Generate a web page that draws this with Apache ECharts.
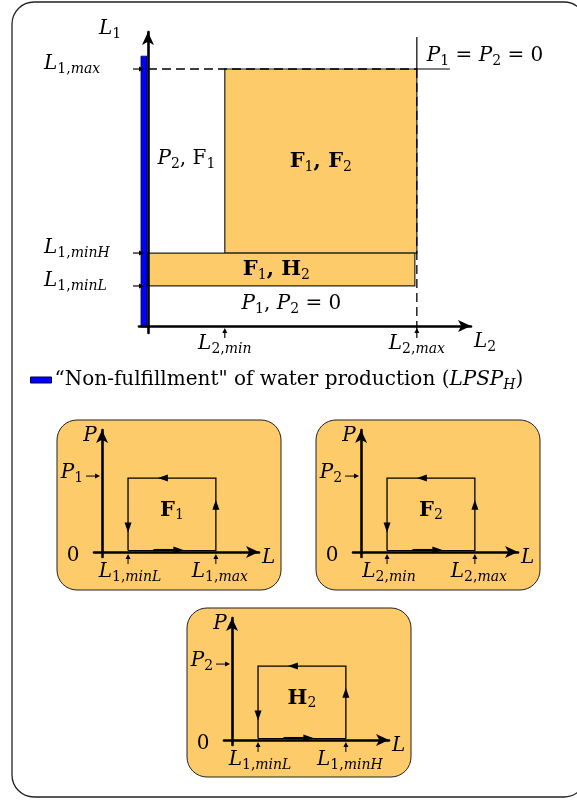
<!DOCTYPE html>
<html><head><meta charset="utf-8">
<script src="https://cdn.jsdelivr.net/npm/echarts@6/dist/echarts.min.js"></script>
<style>html,body{margin:0;padding:0;background:#fff}#c{width:577px;height:800px}</style>
</head><body><div id="c"></div>
<script>
// ================= DATA =================
// Main diagram: operating regions in the (L2, L1) plane
const L2_MIN = 2.0, L2_MAX = 7.0;
const L1_MIN_L = 1.56, L1_MIN_H = 2.84, L1_MAX = 10.0;
const mainXTickValues = [L2_MIN, L2_MAX];
const mainXTickLabels = ['{i|L}{s|2,}{si|min}', '{i|L}{s|2,}{si|max}'];
const mainYTickValues = [L1_MAX, L1_MIN_H, L1_MIN_L];
const mainYTickLabels = ['{i|L}{s|1,}{si|max}', '{i|L}{s|1,}{si|minH}', '{i|L}{s|1,}{si|minL}'];
// filled regions [x0, x1, y0, y1]
const regionXStart = [L2_MIN, 0];
const regionXEnd   = [L2_MAX, L2_MAX];
const regionYStart = [L1_MIN_H, L1_MIN_L];
const regionYEnd   = [L1_MAX, L1_MIN_H];
const regionLabels = ['{b|F}{bs|1}{b|, F}{bs|2}', '{b|F}{bs|1}{b|, H}{bs|2}'];
// unfilled zones
const zoneXStart = [0, 0];
const zoneXEnd   = [L2_MIN, L2_MAX];
const zoneYStart = [L1_MIN_H, 0];
const zoneYEnd   = [L1_MAX, L1_MIN_L];
const zoneLabels = ['{i|P}{s|2}{r|, F}{s|1}', '{i|P}{s|1}{r|, }{i|P}{s|2}{r| = 0}'];
// LPSP_H bar (non-fulfillment of water production)
const lpspLevel = [10.5];
const legendLabel = '{r|\u201CNon-fulfillment" of water production (}{i|LPSP}{si|H}{r|)}';
// guide lines
const guideDashedFrom = [[0, L1_MAX], [L2_MAX, L1_MAX]];
const guideDashedTo   = [[L2_MAX, L1_MAX], [L2_MAX, -0.2]];
const guideSolidFrom  = [[L2_MAX, L1_MAX], [L2_MAX, L1_MAX]];
const guideSolidTo    = [[L2_MAX, 11.25], [7.86, L1_MAX]];
const cornerLabel = '{i|P}{s|1}{r| = }{i|P}{s|2}{r| = 0}';

// Small panels: hysteresis loops of each unit
const panelTitles = ['{b|F}{bs|1}', '{b|F}{bs|2}', '{b|H}{bs|2}'];
const panelPowerLabels = ['{i|P}{s|1}', '{i|P}{s|2}', '{i|P}{s|2}'];
const panelLoopLow  = [1.0, 1.0, 1.0];
const panelLoopHigh = [4.38, 4.38, 4.38];
const panelLoopPower = [3, 3, 3];
const panelLowLabels  = ['{i|L}{s|1,}{si|minL}', '{i|L}{s|2,}{si|min}', '{i|L}{s|1,}{si|minL}'];
const panelHighLabels = ['{i|L}{s|1,}{si|max}', '{i|L}{s|2,}{si|max}', '{i|L}{s|1,}{si|minH}'];

// ================= STYLE =================
const FONT = "'DejaVu Serif', 'Liberation Serif', serif";
const ORANGE = '#FECB6B';
const FS = 20, SFS = 14;
const rich = {
  r:  {fontFamily: FONT, fontSize: FS, color: '#000'},
  i:  {fontFamily: FONT, fontSize: FS, fontStyle: 'italic', color: '#000'},
  b:  {fontFamily: FONT, fontSize: FS + 1, fontWeight: 'bold', color: '#000'},
  s:  {fontFamily: FONT, fontSize: SFS, color: '#000', padding: [11, 0, 0, 0]},
  si: {fontFamily: FONT, fontSize: SFS, fontStyle: 'italic', color: '#000', padding: [11, 0, 0, 0]},
  bs: {fontFamily: FONT, fontSize: SFS, color: '#000', padding: [11, 0, 0, 0]}
};

function txt(t, x, y, align) {
  return {type: 'text', x: x, y: y, style: {text: t, rich: rich, align: align || 'center', verticalAlign: 'middle'}};
}
function head(tip, dir, len, hw) {
  const bx = tip[0] - dir[0] * len, by = tip[1] - dir[1] * len;
  const nx = -dir[1], ny = dir[0];
  return {type: 'polygon', shape: {points: [[tip[0], tip[1]], [bx + nx * hw, by + ny * hw], [bx - nx * hw, by - ny * hw]]}, style: {fill: '#000'}};
}
function arrow(from, to, len, hw, lw) {
  const dx = to[0] - from[0], dy = to[1] - from[1], d = Math.hypot(dx, dy);
  const u = [dx / d, dy / d];
  return [
    {type: 'line', shape: {x1: from[0], y1: from[1], x2: to[0] - u[0] * len * 0.6, y2: to[1] - u[1] * len * 0.6}, style: {stroke: '#000', lineWidth: lw}},
    head(to, u, len, hw)
  ];
}

// axis ranges
const MX = [-0.234, 8.41], MY = [-0.27, 11.44];
const PX = [-0.31, 6.04], PY = [-0.2, 4.95];

function axis(grid, range) {
  return {
    type: 'value', gridIndex: grid, min: range[0], max: range[1],
    axisLine: {show: true, onZero: true, symbol: ['none', 'arrow'], symbolSize: [9, 13],
               lineStyle: {color: '#000', width: 2.6}},
    axisTick: {show: false}, axisLabel: {show: false}, splitLine: {show: false}
  };
}

const grids = [
  {left: 139, top: 32, width: 332, height: 301},
  {left: 94, top: 430, width: 165, height: 127},
  {left: 353, top: 430, width: 165, height: 127},
  {left: 224, top: 618, width: 165, height: 127}
];

const series = [];
// regions
series.push({
  type: 'custom', name: 'regions', coordinateSystem: 'cartesian2d', xAxisIndex: 0, yAxisIndex: 0, z: -1,
  data: regionXStart.map((v, i) => [v, regionXEnd[i], regionYStart[i], regionYEnd[i]]),
  renderItem: function (params, api) {
    const p0 = api.coord([api.value(0), api.value(3)]);
    const p1 = api.coord([api.value(1), api.value(2)]);
    const i = params.dataIndex;
    return {type: 'group', children: [
      {type: 'rect', shape: {x: p0[0], y: p0[1], width: p1[0] - p0[0] - (i === 1 ? 2 : 0), height: p1[1] - p0[1]},
       style: {fill: ORANGE, stroke: '#222', lineWidth: 1.2}},
      txt(regionLabels[i], (p0[0] + p1[0]) / 2 + (i === 1 ? -6 : 0), (p0[1] + p1[1]) / 2 + (i === 1 ? 0 : 1), 'center')
    ]};
  }
});
// LPSP bar
series.push({
  type: 'custom', name: 'lpsp', coordinateSystem: 'cartesian2d', xAxisIndex: 0, yAxisIndex: 0, z: -1,
  itemStyle: {color: '#0000FF', borderColor: '#000040', borderWidth: 1},
  data: lpspLevel.map(v => [0, v]),
  renderItem: function (params, api) {
    const top = api.coord([api.value(0), api.value(1)]);
    const bot = api.coord([api.value(0), 0]);
    return {type: 'rect', shape: {x: top[0] - 7, y: top[1], width: 6, height: bot[1] - top[1] + 1},
            style: {fill: '#0000FF', stroke: '#000040', lineWidth: 0.8}};
  }
});
// guides
series.push({
  type: 'custom', name: 'guides', coordinateSystem: 'cartesian2d', xAxisIndex: 0, yAxisIndex: 0, z: 3,
  data: [[0]],
  renderItem: function (params, api) {
    const ch = [];
    guideDashedFrom.forEach((f, i) => {
      const a = api.coord(f), b = api.coord(guideDashedTo[i]);
      ch.push({type: 'line', shape: {x1: a[0], y1: a[1], x2: b[0], y2: b[1]}, style: {stroke: '#000', lineWidth: 1.3, lineDash: [9, 5]}});
    });
    guideSolidFrom.forEach((f, i) => {
      const a = api.coord(f), b = api.coord(guideSolidTo[i]);
      ch.push({type: 'line', shape: {x1: a[0], y1: a[1], x2: b[0], y2: b[1]}, style: {stroke: '#000', lineWidth: 1.2}});
    });
    const c = api.coord([L2_MAX, L1_MAX]);
    ch.push(txt(cornerLabel, c[0] + 10, c[1] - 13, 'left'));
    // zone labels
    zoneXStart.forEach((x0, i) => {
      const a = api.coord([x0, zoneYEnd[i]]), b = api.coord([zoneXEnd[i], zoneYStart[i]]);
      ch.push(txt(zoneLabels[i], (a[0] + b[0]) / 2 + (i === 1 ? 9 : 0), (a[1] + b[1]) / 2 - 2, 'center'));
    });
    // axis names
    const yTop = api.coord([0, MY[1]]), xEnd = api.coord([MX[1], 0]);
    ch.push(txt('{i|L}{s|1}', yTop[0] - 38, yTop[1] - 3, 'center'));
    ch.push(txt('{i|L}{s|2}', xEnd[0] + 3, xEnd[1] + 16, 'left'));
    return {type: 'group', children: ch};
  }
});
// y ticks
series.push({
  type: 'custom', name: 'yticks', coordinateSystem: 'cartesian2d', xAxisIndex: 0, yAxisIndex: 0, z: 3,
  data: mainYTickValues.map((v, i) => [0, v, i]),
  renderItem: function (params, api) {
    const p = api.coord([0, api.value(1)]);
    return {type: 'group', children: [
      ...arrow([p[0] - 15, p[1]], [p[0] - 4, p[1]], 5, 2.5, 1.2),
      txt(mainYTickLabels[params.dataIndex], p[0] - 104, p[1] - 5, 'left')
    ]};
  }
});
// x ticks
series.push({
  type: 'custom', name: 'xticks', coordinateSystem: 'cartesian2d', xAxisIndex: 0, yAxisIndex: 0, z: 3,
  data: mainXTickValues.map((v, i) => [v, 0, i]),
  renderItem: function (params, api) {
    const p = api.coord([api.value(0), 0]);
    return {type: 'group', children: [
      ...arrow([p[0], p[1] + 12], [p[0], p[1] + 2], 5, 2.5, 1.2),
      txt(mainXTickLabels[params.dataIndex], p[0], p[1] + 18, 'center')
    ]};
  }
});
// panels
panelTitles.forEach((t, k) => {
  series.push({
    type: 'custom', name: 'panel' + k, coordinateSystem: 'cartesian2d', xAxisIndex: k + 1, yAxisIndex: k + 1, z: 3,
    data: [[panelLoopLow[k], panelLoopHigh[k], panelLoopPower[k]]],
    renderItem: function (params, api) {
      const Lmin = api.value(0), Lmax = api.value(1), P = api.value(2);
      const o = api.coord([0, 0]);
      const A = api.coord([Lmin, P]), C = api.coord([Lmax, 0]);
      const xL = A[0], xR = C[0], yT = A[1], y0 = C[1] - 1.5;
      const w = xR - xL, h = y0 - yT;
      const ch = [];
      ch.push({type: 'polyline', shape: {points: [[xL, y0], [xL, yT], [xR, yT], [xR, y0], [xL, y0]]},
               style: {stroke: '#000', lineWidth: 1.3, fill: null}});
      ch.push(head([xL + 0.34 * w, yT], [-1, 0], 10, 3.5));
      ch.push(head([xL, yT + 0.75 * h], [0, 1], 10, 3.5));
      ch.push(head([xR, yT + 0.30 * h], [0, -1], 10, 3.5));
      ch.push({type: 'line', shape: {x1: xL + 0.29 * w, y1: y0 - 0.5, x2: xL + 0.6 * w, y2: y0 - 0.5}, style: {stroke: '#000', lineWidth: 2.2}});
      ch.push(head([xL + 0.63 * w, y0 - 0.5], [1, 0], 10, 3.5));
      ch.push(txt(panelTitles[k], (xL + xR) / 2, (yT + y0) / 2 - 4, 'center'));
      ch.push(...arrow([o[0] - 16, yT - 2], [o[0] - 2, yT - 2], 5, 2.5, 1));
      ch.push(txt(panelPowerLabels[k], o[0] - 19, yT - 5, 'right'));
      ch.push(...arrow([xL, o[1] + 12], [xL, o[1] + 2], 5, 2.5, 1));
      ch.push(...arrow([xR, o[1] + 12], [xR, o[1] + 2], 5, 2.5, 1));
      ch.push(txt(panelLowLabels[k], xL + 2, o[1] + 20, 'center'));
      ch.push(txt(panelHighLabels[k], xR + 4, o[1] + 20, 'center'));
      const top = api.coord([0, PY[1]]), right = api.coord([PX[1], 0]);
      ch.push(txt('{i|P}', top[0] - 12, top[1] + 6, 'center'));
      ch.push(txt('{i|L}', right[0] + 3, right[1] + 6, 'left'));
      ch.push(txt('{r|0}', o[0] - 29, o[1] + 4, 'center'));
      return {type: 'group', children: ch};
    }
  });
});

const option = {
  backgroundColor: '#fff',
  animation: false,
  grid: grids,
  xAxis: [axis(0, MX), axis(1, PX), axis(2, PX), axis(3, PX)],
  yAxis: [axis(0, MY), axis(1, PY), axis(2, PY), axis(3, PY)],
  legend: {
    left: 30, top: 370, padding: 0, itemWidth: 21, itemHeight: 6, itemGap: 0,
    data: [{name: 'lpsp', icon: 'rect'}],
    itemStyle: {color: '#0000FF', borderColor: '#000040', borderWidth: 1},
    formatter: function () { return legendLabel; },
    textStyle: {rich: rich, padding: [0, 0, 0, -2]}
  },
  graphic: [
    {type: 'rect', z: -10, shape: {x: 12, y: 2, width: 574, height: 795, r: 22}, style: {fill: 'none', stroke: '#222', lineWidth: 1.3}},
    {type: 'rect', z: -10, shape: {x: 57, y: 420, width: 224, height: 170, r: 20}, style: {fill: ORANGE, stroke: '#222', lineWidth: 1}},
    {type: 'rect', z: -10, shape: {x: 316, y: 420, width: 224, height: 170, r: 20}, style: {fill: ORANGE, stroke: '#222', lineWidth: 1}},
    {type: 'rect', z: -10, shape: {x: 187, y: 608, width: 224, height: 169, r: 20}, style: {fill: ORANGE, stroke: '#222', lineWidth: 1}}
  ],
  series: series
};
const chart = echarts.init(document.getElementById('c'));
chart.setOption(option);
</script>
</body></html>
